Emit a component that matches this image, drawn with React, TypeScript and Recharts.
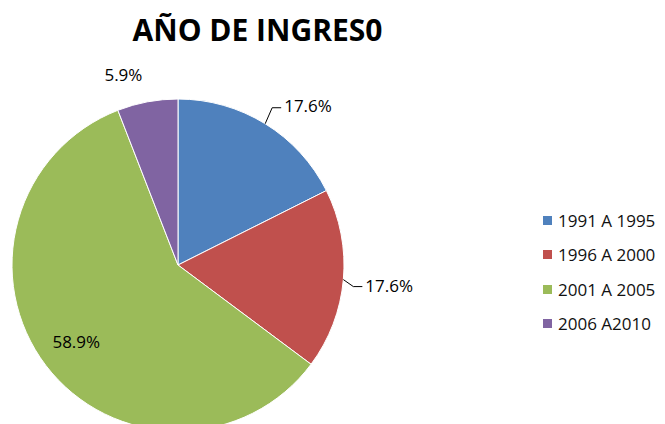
import React from "react";
import { PieChart, Pie, Cell, Legend } from "recharts";

const categories = ["1991 A 1995", "1996 A 2000", "2001 A 2005", "2006 A2010"];
const values = [17.6, 17.6, 58.9, 5.9];
const colors = ["#4F81BD", "#C0504D", "#9BBB59", "#8064A2"];
const title = "AÑO DE INGRES0";

const data = categories.map((name, i) => ({ name, value: values[i] }));

const RAD = Math.PI / 180;
const FONT = "'Open Sans', 'Liberation Sans', sans-serif";

function renderLabel(props: any) {
  const { cx, cy, midAngle, outerRadius, index, percent } = props;
  const txt = `${(percent * 100).toFixed(1)}%`;
  const px = (r: number, a: number) => cx + r * Math.cos(-a * RAD);
  const py = (r: number, a: number) => cy + r * Math.sin(-a * RAD);
  const sx = px(outerRadius, midAngle);
  const sy = py(outerRadius, midAngle);
  const common = { fontFamily: FONT, fontSize: 17, fill: "#000" } as any;
  if (index === 0) {
    const ex = sx + 7, ey = sy - 16;
    return (
      <g>
        <polyline points={`${sx},${sy} ${ex},${ey} ${ex + 9},${ey}`} fill="none" stroke="#000" strokeWidth={1} />
        <text x={ex + 12} y={ey - 2} dominantBaseline="central" {...common}>{txt}</text>
      </g>
    );
  }
  if (index === 1) {
    const ex = sx + 10, ey = sy + 7;
    return (
      <g>
        <polyline points={`${sx},${sy} ${ex},${ey} ${ex + 9},${ey}`} fill="none" stroke="#000" strokeWidth={1} />
        <text x={ex + 12} y={ey - 1} dominantBaseline="central" {...common}>{txt}</text>
      </g>
    );
  }
  if (index === 2) {
    const r = outerRadius * 0.77;
    return (
      <text x={px(r, midAngle)} y={py(r, midAngle) - 1} textAnchor="middle" dominantBaseline="central" {...common}>{txt}</text>
    );
  }
  return (
    <text x={sx - 24} y={sy - 27} textAnchor="middle" dominantBaseline="central" {...common}>{txt}</text>
  );
}

function renderLegend(props: any) {
  const { payload } = props;
  return (
    <div>
      {payload.map((p: any, i: number) => (
        <div key={i} style={{ display: "flex", alignItems: "center", height: 34.5, fontFamily: FONT, fontSize: 17, color: "#111" }}>
          <span style={{ display: "inline-block", width: 9, height: 9, background: p.color, marginRight: 6 }} />
          <span>{p.value}</span>
        </div>
      ))}
    </div>
  );
}

export default function App() {
  return (
    <div style={{ position: "absolute", left: 0, top: 0, width: 665, height: 424, background: "#fff", overflow: "hidden" }}>
      <div style={{ position: "absolute", left: 0, top: 8, width: 515, textAlign: "center", fontFamily: FONT, fontWeight: 700, fontSize: 30, color: "#000", lineHeight: "44px" }}>
        {title}
      </div>
      <PieChart width={665} height={424} margin={{ top: 0, right: 0, bottom: 0, left: 0 }}>
        <Pie
          data={data}
          dataKey="value"
          nameKey="name"
          cx={178}
          cy={265}
          outerRadius={166}
          startAngle={90}
          endAngle={-270}
          stroke="#fff"
          strokeWidth={1}
          label={renderLabel}
          labelLine={false}
          isAnimationActive={false}
        >
          {data.map((d, i) => (
            <Cell key={d.name} fill={colors[i]} />
          ))}
        </Pie>
        <Legend
          layout="vertical"
          content={renderLegend}
          wrapperStyle={{ position: "absolute", left: 543, top: 203, width: 122 }}
        />
      </PieChart>
    </div>
  );
}
